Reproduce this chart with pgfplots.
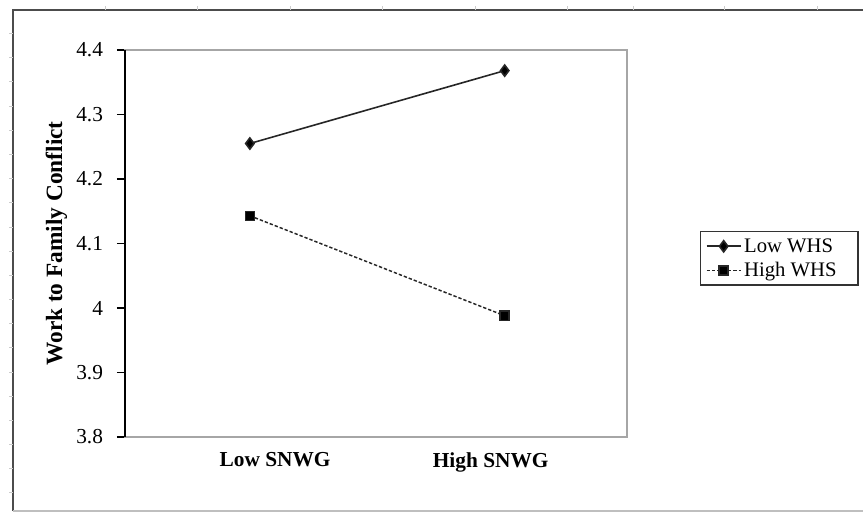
\documentclass[border=0pt]{standalone}
\usepackage{pgfplots}
\pgfplotsset{compat=1.18}
\usepackage{fontspec}
\setmainfont{Liberation Serif}
\begin{document}
\begin{tikzpicture}[x=0.75pt,y=0.75pt]
\useasboundingbox (0,0) rectangle (863,512);
% outer frame
\draw[black!70, line width=1.2pt] (13,1) -- (13,502) -- (863,502);
\draw[black!25, line width=0.8pt] (13,1) -- (863,1);
\foreach \xx in {105,197,290,382,475,567,633,724,817} {\draw[black!20, line width=0.4pt] (\xx,502) -- (\xx,506);}
\foreach \yy in {33,57,81,106,130,154,178,202,227,251,275,299,323,347,372,396,420,444,468,492} {\draw[black!20, line width=0.4pt] (9,512-\yy) -- (13,512-\yy);}
\begin{axis}[
  at={(93.75pt,56.25pt)}, anchor=south west,
  width=376.5pt, height=290.25pt, scale only axis,
  xmin=-0.49, xmax=1.48,
  ymin=3.8, ymax=4.4,
  ytick={3.8,3.9,4.0,4.1,4.2,4.3,4.4},
  xtick={0.099,0.945},
  xticklabels={Low SNWG, High SNWG},
  xtick style={draw=none},
  ytick pos=left,
  tick align=outside,
  major tick length=6pt,
  ytick style={black, line width=0.8pt},
  axis line style={black!35, line width=1.3pt},
  /pgf/number format/assume math mode=true,
  yticklabel style={font=\fontsize{16}{18}\selectfont, xshift=-7pt},
  xticklabel style={font=\fontsize{16}{18}\selectfont\bfseries, yshift=-2pt},
  ylabel={\textbf{Work to Family Conflict}},
  ylabel style={font=\fontsize{17.5}{20}\selectfont, yshift=0pt},
  legend style={at={(1.145,0.532)}, anchor=north west, draw=black!80, line width=1pt,
    font=\fontsize{15.5}{18}\selectfont, inner xsep=4pt, inner ysep=3pt, row sep=2pt,
    cells={anchor=west}},
  legend image code/.code={\draw[#1] (0cm,0cm) -- (0.9cm,0cm); \draw[#1, solid] plot coordinates {(0.45cm,0cm)};},
  clip=false,
]
\draw[black, line width=1.2pt] (rel axis cs:0,0) -- (rel axis cs:0,1);
\addplot[black!85, line width=1.2pt, mark=diamond*, mark size=4.2pt, mark options={solid, fill=black}]
  coordinates {(0,4.255) (1,4.368)};
\addlegendentry{Low WHS\rule{0pt}{0pt}\hspace*{10pt}}
\addplot[black!85, line width=1.1pt, dash pattern=on 2.5pt off 1.5pt, mark=square*, mark size=3.4pt, mark options={solid, fill=black}]
  coordinates {(0,4.143) (1,3.988)};
\addlegendentry{High WHS\rule{0pt}{0pt}\hspace*{10pt}}
\end{axis}
\end{tikzpicture}
\end{document}
